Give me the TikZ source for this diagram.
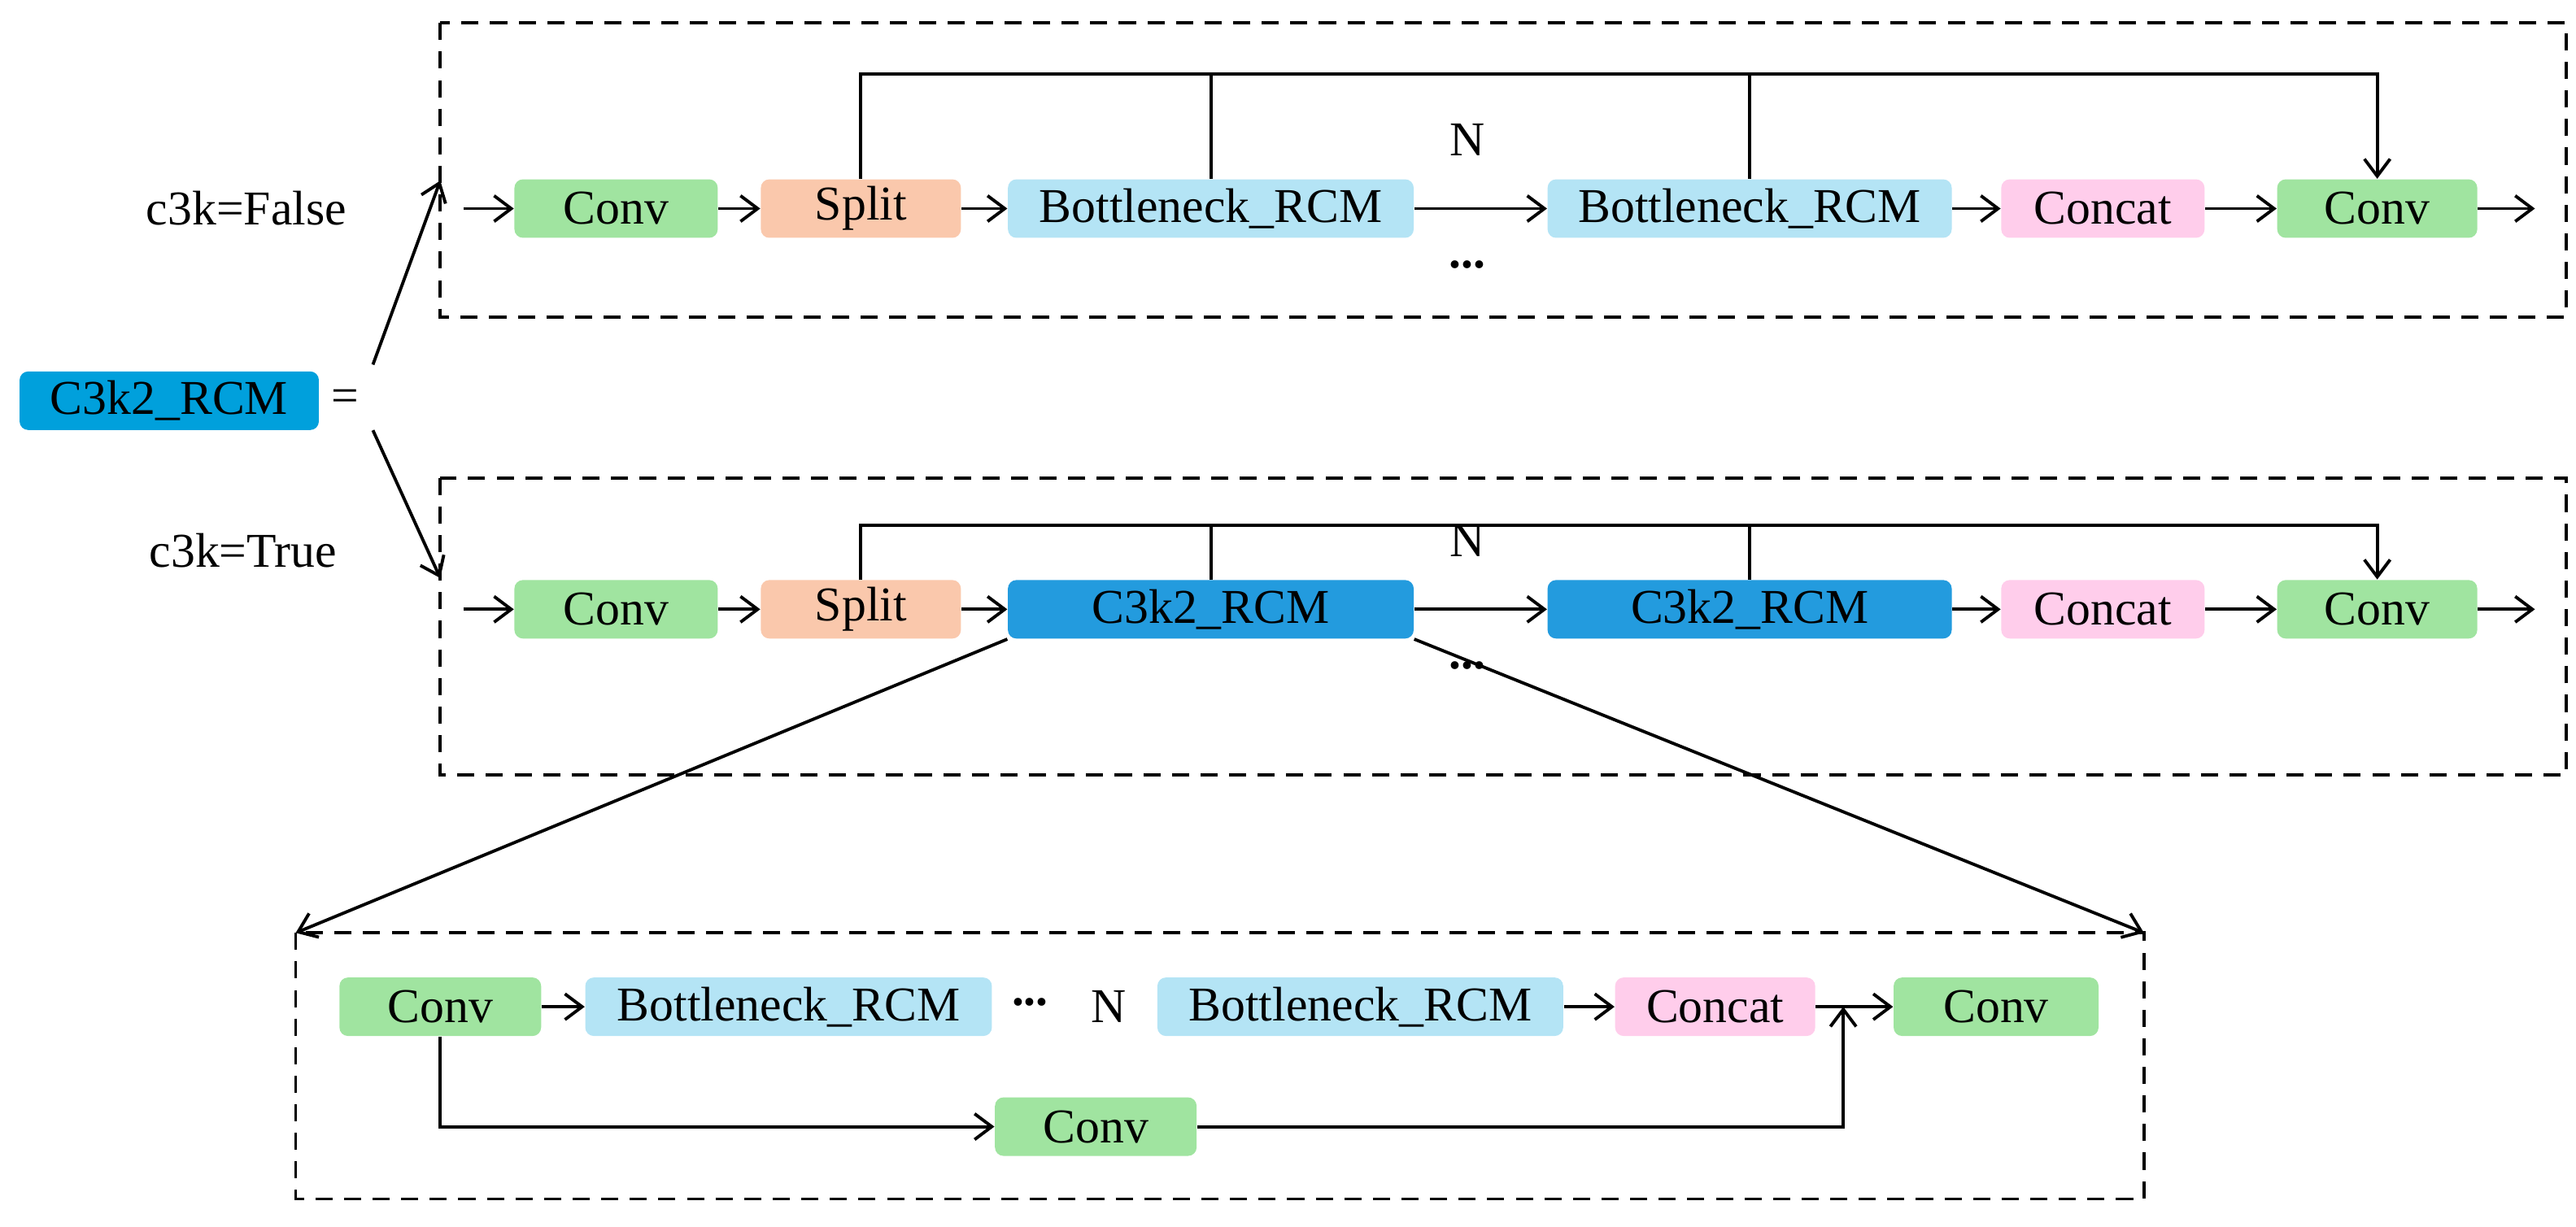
\documentclass[tikz,border=0pt]{standalone}
\usepackage{fontspec}
\setmainfont{Liberation Serif}
\usetikzlibrary{arrows.meta}
\definecolor{cgreen}{RGB}{160,228,160}
\definecolor{corange}{RGB}{250,200,172}
\definecolor{clblue}{RGB}{180,228,245}
\definecolor{cpink}{RGB}{255,205,235}
\definecolor{cblue}{RGB}{0,160,220}
\definecolor{cdblue}{RGB}{35,155,222}
\begin{document}
\begin{tikzpicture}[x=0.0202cm,y=-0.0202cm,
  blk/.style={rounded corners=3pt,minimum height=0.72cm,inner sep=0pt,font=\fontsize{17}{20}\selectfont},
  lab/.style={font=\fontsize{17}{20}\selectfont},
  ar/.style={-{Straight Barb[length=6pt,width=9pt]},line width=1.1pt},
  ln/.style={line width=1.1pt},
  dbox/.style={line width=1.1pt,dash pattern=on 6pt off 4pt}]
\useasboundingbox (0,0) rectangle (1568,747);
% boxes
\draw[dbox] (268,14) rectangle (1562,193);
\draw[dbox] (268,291) rectangle (1562,472);
\draw[dbox] (180,568) rectangle (1305,730);
\node[lab] (f) at (150,127) {c3k=False};
\node[lab] (t) at (148,335) {c3k=True};
\node[blk,fill=cblue,minimum width=3.68cm] (main) at (103,244) {C3k2\_RCM};
\node[lab] (eq) at (210,244) {=};
\coordinate (t1) at (268,110); \coordinate (t2) at (268,352);
\coordinate (s1) at (227,222); \coordinate (s2) at (227,262);
\draw[ar] (s1) -- (t1); \draw[ar] (s2) -- (t2);
% rows
\foreach \r/\y/\off/\col/\txt in {a/127/82/clblue/Bottleneck\_RCM, b/371/51/cdblue/C3k2\_RCM}{
  \node[blk,fill=cgreen,minimum width=2.5cm] (\r1) at (375,\y) {Conv};
  \node[blk,fill=corange,minimum width=2.46cm] (\r2) at (524,\y) {Split};
  \node[blk,fill=\col,minimum width=4.99cm] (\r3) at (737,\y) {\txt};
  \node[blk,fill=\col,minimum width=4.97cm] (\r4) at (1065,\y) {\txt};
  \node[blk,fill=cpink,minimum width=2.5cm] (\r5) at (1280,\y) {Concat};
  \node[blk,fill=cgreen,minimum width=2.46cm] (\r6) at (1447,\y) {Conv};
  \coordinate (\r0) at (282,\y); \coordinate (\r7) at (1543,\y);
  \coordinate (\r T) at (1447,\y-\off);
  \node[lab] (\r N) at (893,\y-42) {N};
  \node[lab] (\r d) at (893,\y+34) {\textbf{...}};
  \draw[ar] (\r0) -- (\r1); \draw[ar] (\r1) -- (\r2); \draw[ar] (\r2) -- (\r3);
  \draw[ar] (\r3) -- (\r4); \draw[ar] (\r4) -- (\r5); \draw[ar] (\r5) -- (\r6);
  \draw[ar] (\r6) -- (\r7);
  \draw[ar] (\r2.north) |- (\r T) -- (\r6.north);
  \draw[ln] (\r3.north) -- (\r3.north |- \r T);
  \draw[ln] (\r4.north) -- (\r4.north |- \r T);
}
\coordinate (c1) at (180,568); \coordinate (c2) at (1305,568);
\draw[ar] (b3.south west) -- (c1);
\draw[ar] (b3.south east) -- (c2);
% bottom
\node[blk,fill=cgreen,minimum width=2.48cm] (d1) at (268,613) {Conv};
\node[blk,fill=clblue,minimum width=5.0cm] (d2) at (480,613) {Bottleneck\_RCM};
\node[lab] (dd) at (627,610) {\textbf{...}};
\node[lab] (dn) at (675,613) {N};
\node[blk,fill=clblue,minimum width=4.99cm] (d3) at (828,613) {Bottleneck\_RCM};
\node[blk,fill=cpink,minimum width=2.46cm] (d4) at (1044,613) {Concat};
\node[blk,fill=cgreen,minimum width=2.52cm] (d5) at (1215,613) {Conv};
\node[blk,fill=cgreen,minimum width=2.48cm] (d6) at (667,686) {Conv};
\coordinate (j) at (1122,613);
\draw[ar] (d1) -- (d2);
\draw[ar] (d3) -- (d4);
\draw[ar] (d4) -- (d5);
\draw[ar] (d1.south) |- (d6.west);
\draw[ar] (d6.east) -| (j);
\end{tikzpicture}
\end{document}
